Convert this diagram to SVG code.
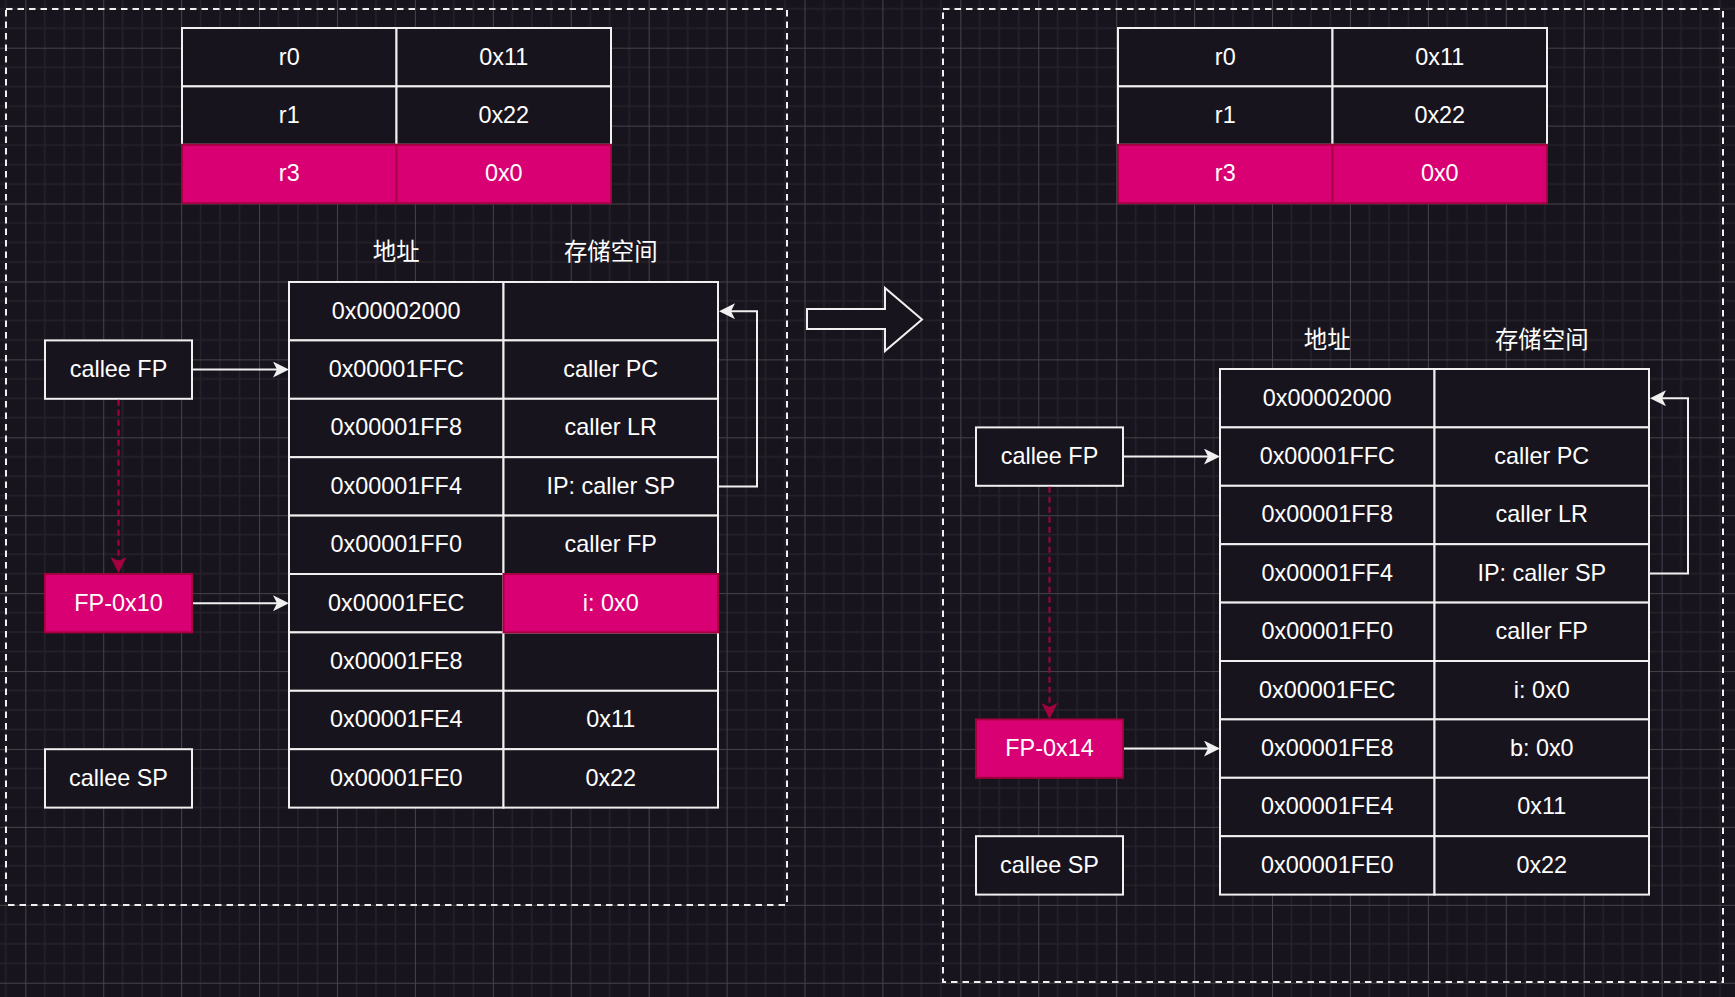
<svg xmlns="http://www.w3.org/2000/svg" width="1735" height="997" viewBox="0 0 1735 997">
<style>
.cell{fill:#18141d;stroke:#f0f0f0;stroke-width:2}
.hot{fill:#d80073;stroke:#a50040;stroke-width:2}
.t{font-family:"Liberation Sans",Arial,"Noto Sans CJK SC",sans-serif;font-size:23.4px;fill:#ffffff;text-anchor:middle;transform:translateY(-1px)}
.frame{fill:none;stroke:#f0f0f0;stroke-width:2;stroke-dasharray:6.5 5}
.edge{fill:none;stroke:#f0f0f0;stroke-width:2}
.dash{fill:none;stroke:#a50040;stroke-width:2;stroke-dasharray:6 4}
.big{fill:#18141d;stroke:#f0f0f0;stroke-width:2}
</style>
<defs>
<pattern id="grid" x="25.3" y="47.7" width="77.92" height="77.92" patternUnits="userSpaceOnUse">
<path d="M19.48 0V77.92M38.96 0V77.92M58.44 0V77.92M0 19.48H77.92M0 38.96H77.92M0 58.44H77.92" stroke="#25222b" stroke-width="1.5" fill="none"/>
<path d="M0.5 0V77.92M0 0.5H77.92" stroke="#45424a" stroke-width="1" fill="none"/>
</pattern>
<marker id="arr" markerUnits="userSpaceOnUse" viewBox="0 0 16 16" markerWidth="16" markerHeight="16" refX="6" refY="8" orient="auto">
<path d="M0,0L16,8L0,16L4,8Z" fill="#f0f0f0"/>
</marker>
<marker id="arrc" markerUnits="userSpaceOnUse" viewBox="0 0 16 16" markerWidth="16" markerHeight="16" refX="6" refY="8" orient="auto">
<path d="M0,0L16,8L0,16L4,8Z" fill="#a50040"/>
</marker>
</defs>
<rect width="1735" height="997" fill="#18141d"/>
<rect width="1735" height="997" fill="url(#grid)"/>

<g id="frame-left"><rect class="frame" x="6" y="9" width="781" height="896"/></g>
<g id="frame-right"><rect class="frame" x="943" y="9" width="780" height="973"/></g>

<g id="big-arrow"><path class="big" d="M807,309H885V288L922,319.5L885,351V329H807Z"/></g>

<!-- Left register table -->
<g id="L-reg-r0"><rect class="cell" x="182" y="28" width="214.5" height="58.4"/><text class="t" x="289.25" y="65.6">r0</text></g>
<g id="L-reg-r0v"><rect class="cell" x="396.5" y="28" width="214.5" height="58.4"/><text class="t" x="503.75" y="65.6">0x11</text></g>
<g id="L-reg-r1"><rect class="cell" x="182" y="86.4" width="214.5" height="58.4"/><text class="t" x="289.25" y="124">r1</text></g>
<g id="L-reg-r1v"><rect class="cell" x="396.5" y="86.4" width="214.5" height="58.4"/><text class="t" x="503.75" y="124">0x22</text></g>
<g id="L-reg-r3"><rect class="hot" x="182" y="144.8" width="214.5" height="58.4"/><text class="t" x="289.25" y="182.4">r3</text></g>
<g id="L-reg-r3v"><rect class="hot" x="396.5" y="144.8" width="214.5" height="58.4"/><text class="t" x="503.75" y="182.4">0x0</text></g>

<!-- Right register table -->
<g id="R-reg-r0"><rect class="cell" x="1118" y="28" width="214.5" height="58.4"/><text class="t" x="1225.25" y="65.6">r0</text></g>
<g id="R-reg-r0v"><rect class="cell" x="1332.5" y="28" width="214.5" height="58.4"/><text class="t" x="1439.75" y="65.6">0x11</text></g>
<g id="R-reg-r1"><rect class="cell" x="1118" y="86.4" width="214.5" height="58.4"/><text class="t" x="1225.25" y="124">r1</text></g>
<g id="R-reg-r1v"><rect class="cell" x="1332.5" y="86.4" width="214.5" height="58.4"/><text class="t" x="1439.75" y="124">0x22</text></g>
<g id="R-reg-r3"><rect class="hot" x="1118" y="144.8" width="214.5" height="58.4"/><text class="t" x="1225.25" y="182.4">r3</text></g>
<g id="R-reg-r3v"><rect class="hot" x="1332.5" y="144.8" width="214.5" height="58.4"/><text class="t" x="1439.75" y="182.4">0x0</text></g>

<!-- Headers -->
<g id="L-hdr-addr"><text class="t" x="396.25" y="260.9">地址</text></g>
<g id="L-hdr-store"><text class="t" x="610.75" y="260.9">存储空间</text></g>
<g id="R-hdr-addr"><text class="t" x="1327.25" y="348.9">地址</text></g>
<g id="R-hdr-store"><text class="t" x="1541.75" y="348.9">存储空间</text></g>

<!-- Left memory table -->
<g id="L-m1a"><rect class="cell" x="289" y="282" width="214.5" height="58.4"/><text class="t" x="396.25" y="319.6">0x00002000</text></g>
<g id="L-m1b"><rect class="cell" x="503.5" y="282" width="214.5" height="58.4"/></g>
<g id="L-m2a"><rect class="cell" x="289" y="340.4" width="214.5" height="58.4"/><text class="t" x="396.25" y="378">0x00001FFC</text></g>
<g id="L-m2b"><rect class="cell" x="503.5" y="340.4" width="214.5" height="58.4"/><text class="t" x="610.75" y="378">caller PC</text></g>
<g id="L-m3a"><rect class="cell" x="289" y="398.8" width="214.5" height="58.4"/><text class="t" x="396.25" y="436.4">0x00001FF8</text></g>
<g id="L-m3b"><rect class="cell" x="503.5" y="398.8" width="214.5" height="58.4"/><text class="t" x="610.75" y="436.4">caller LR</text></g>
<g id="L-m4a"><rect class="cell" x="289" y="457.2" width="214.5" height="58.4"/><text class="t" x="396.25" y="494.8">0x00001FF4</text></g>
<g id="L-m4b"><rect class="cell" x="503.5" y="457.2" width="214.5" height="58.4"/><text class="t" x="610.75" y="494.8">IP: caller SP</text></g>
<g id="L-m5a"><rect class="cell" x="289" y="515.6" width="214.5" height="58.4"/><text class="t" x="396.25" y="553.2">0x00001FF0</text></g>
<g id="L-m5b"><rect class="cell" x="503.5" y="515.6" width="214.5" height="58.4"/><text class="t" x="610.75" y="553.2">caller FP</text></g>
<g id="L-m6a"><rect class="cell" x="289" y="574" width="214.5" height="58.4"/><text class="t" x="396.25" y="611.6">0x00001FEC</text></g>
<g id="L-m7a"><rect class="cell" x="289" y="632.4" width="214.5" height="58.4"/><text class="t" x="396.25" y="670">0x00001FE8</text></g>
<g id="L-m7b"><rect class="cell" x="503.5" y="632.4" width="214.5" height="58.4"/></g>
<g id="L-m8a"><rect class="cell" x="289" y="690.8" width="214.5" height="58.4"/><text class="t" x="396.25" y="728.4">0x00001FE4</text></g>
<g id="L-m8b"><rect class="cell" x="503.5" y="690.8" width="214.5" height="58.4"/><text class="t" x="610.75" y="728.4">0x11</text></g>
<g id="L-m9a"><rect class="cell" x="289" y="749.2" width="214.5" height="58.4"/><text class="t" x="396.25" y="786.8">0x00001FE0</text></g>
<g id="L-m9b"><rect class="cell" x="503.5" y="749.2" width="214.5" height="58.4"/><text class="t" x="610.75" y="786.8">0x22</text></g>
<g id="L-m6b"><rect class="hot" x="503.5" y="574" width="214.5" height="58.4"/><text class="t" x="610.75" y="611.6">i: 0x0</text></g>

<!-- Right memory table -->
<g id="R-m1a"><rect class="cell" x="1220" y="369" width="214.5" height="58.4"/><text class="t" x="1327.25" y="406.6">0x00002000</text></g>
<g id="R-m1b"><rect class="cell" x="1434.5" y="369" width="214.5" height="58.4"/></g>
<g id="R-m2a"><rect class="cell" x="1220" y="427.4" width="214.5" height="58.4"/><text class="t" x="1327.25" y="465">0x00001FFC</text></g>
<g id="R-m2b"><rect class="cell" x="1434.5" y="427.4" width="214.5" height="58.4"/><text class="t" x="1541.75" y="465">caller PC</text></g>
<g id="R-m3a"><rect class="cell" x="1220" y="485.8" width="214.5" height="58.4"/><text class="t" x="1327.25" y="523.4">0x00001FF8</text></g>
<g id="R-m3b"><rect class="cell" x="1434.5" y="485.8" width="214.5" height="58.4"/><text class="t" x="1541.75" y="523.4">caller LR</text></g>
<g id="R-m4a"><rect class="cell" x="1220" y="544.2" width="214.5" height="58.4"/><text class="t" x="1327.25" y="581.8">0x00001FF4</text></g>
<g id="R-m4b"><rect class="cell" x="1434.5" y="544.2" width="214.5" height="58.4"/><text class="t" x="1541.75" y="581.8">IP: caller SP</text></g>
<g id="R-m5a"><rect class="cell" x="1220" y="602.6" width="214.5" height="58.4"/><text class="t" x="1327.25" y="640.2">0x00001FF0</text></g>
<g id="R-m5b"><rect class="cell" x="1434.5" y="602.6" width="214.5" height="58.4"/><text class="t" x="1541.75" y="640.2">caller FP</text></g>
<g id="R-m6a"><rect class="cell" x="1220" y="661" width="214.5" height="58.4"/><text class="t" x="1327.25" y="698.6">0x00001FEC</text></g>
<g id="R-m6b"><rect class="cell" x="1434.5" y="661" width="214.5" height="58.4"/><text class="t" x="1541.75" y="698.6">i: 0x0</text></g>
<g id="R-m7a"><rect class="cell" x="1220" y="719.4" width="214.5" height="58.4"/><text class="t" x="1327.25" y="757">0x00001FE8</text></g>
<g id="R-m7b"><rect class="cell" x="1434.5" y="719.4" width="214.5" height="58.4"/><text class="t" x="1541.75" y="757">b: 0x0</text></g>
<g id="R-m8a"><rect class="cell" x="1220" y="777.8" width="214.5" height="58.4"/><text class="t" x="1327.25" y="815.4">0x00001FE4</text></g>
<g id="R-m8b"><rect class="cell" x="1434.5" y="777.8" width="214.5" height="58.4"/><text class="t" x="1541.75" y="815.4">0x11</text></g>
<g id="R-m9a"><rect class="cell" x="1220" y="836.2" width="214.5" height="58.4"/><text class="t" x="1327.25" y="873.8">0x00001FE0</text></g>
<g id="R-m9b"><rect class="cell" x="1434.5" y="836.2" width="214.5" height="58.4"/><text class="t" x="1541.75" y="873.8">0x22</text></g>

<!-- Pointer boxes -->
<g id="L-calleeFP"><rect class="cell" x="45" y="340.4" width="147" height="58.4"/><text class="t" x="118.5" y="378">callee FP</text></g>
<g id="L-fp10"><rect class="hot" x="45" y="574" width="147" height="58.4"/><text class="t" x="118.5" y="611.6">FP-0x10</text></g>
<g id="L-calleeSP"><rect class="cell" x="45" y="749.2" width="147" height="58.4"/><text class="t" x="118.5" y="786.8">callee SP</text></g>
<g id="R-calleeFP"><rect class="cell" x="976" y="427.4" width="147" height="58.4"/><text class="t" x="1049.5" y="465">callee FP</text></g>
<g id="R-fp14"><rect class="hot" x="976" y="719.4" width="147" height="58.4"/><text class="t" x="1049.5" y="757">FP-0x14</text></g>
<g id="R-calleeSP"><rect class="cell" x="976" y="836.2" width="147" height="58.4"/><text class="t" x="1049.5" y="873.8">callee SP</text></g>

<g id="connectors">
<path class="edge" d="M193,369.6H279" marker-end="url(#arr)"/>
<path class="edge" d="M193,603.2H279" marker-end="url(#arr)"/>
<path class="dash" d="M118.5,399.8V563" marker-end="url(#arrc)"/>
<path class="edge" d="M719,486.4H757V311.2H729" marker-end="url(#arr)"/>
<path class="edge" d="M1124,456.6H1210" marker-end="url(#arr)"/>
<path class="edge" d="M1124,748.6H1210" marker-end="url(#arr)"/>
<path class="dash" d="M1049.5,486.8V709" marker-end="url(#arrc)"/>
<path class="edge" d="M1650,573.4H1688V398.2H1660" marker-end="url(#arr)"/>
</g>
</svg>
